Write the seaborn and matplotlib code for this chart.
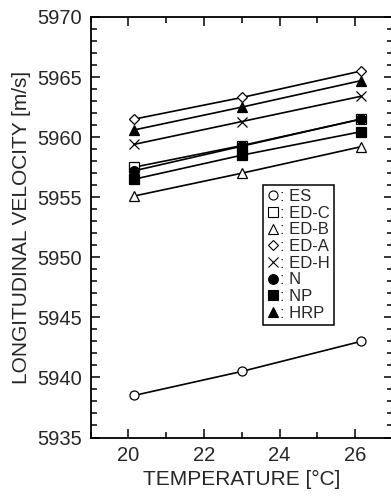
import matplotlib
matplotlib.use("Agg")
import matplotlib.pyplot as plt
from matplotlib.lines import Line2D
from matplotlib.ticker import MultipleLocator
import numpy as np
import pandas as pd
import seaborn as sns

# ---- data ----
temperature = [20.15, 23.0, 26.15]
series_names = ["ES", "ED-C", "ED-B", "ED-A", "ED-H", "N", "NP", "HRP"]
es   = [5938.5, 5940.5, 5943.0]
ed_c = [5957.5, 5959.3, 5961.5]
ed_b = [5955.1, 5957.0, 5959.2]
ed_a = [5961.5, 5963.3, 5965.5]
ed_h = [5959.4, 5961.3, 5963.4]
n_   = [5957.2, 5959.25, 5961.5]
np_  = [5956.5, 5958.5, 5960.45]
hrp  = [5960.6, 5962.5, 5964.7]
values = [es, ed_c, ed_b, ed_a, ed_h, n_, np_, hrp]

xticks = [20, 22, 24, 26]
yticks = [5935, 5940, 5945, 5950, 5955, 5960, 5965, 5970]

# ---- styles ----
markers = {"ES": "o", "ED-C": "s", "ED-B": "^", "ED-A": "D", "ED-H": "x",
           "N": "o", "NP": "s", "HRP": "^"}
filled = {"ES": False, "ED-C": False, "ED-B": False, "ED-A": False, "ED-H": False,
          "N": True, "NP": True, "HRP": True}
msize = {"ES": 6.5, "ED-C": 6.5, "ED-B": 6.5, "ED-A": 5.5, "ED-H": 7,
         "N": 7, "NP": 7, "HRP": 7}

rows = []
for name, vals in zip(series_names, values):
    for t, v in zip(temperature, vals):
        rows.append({"series": name, "T": t, "V": v})
df = pd.DataFrame(rows)

sns.set_style("ticks")
plt.rcParams["font.family"] = ["Liberation Sans", "DejaVu Sans"]

W, H = 391, 497
fig = plt.figure(figsize=(W / 100, H / 100), dpi=100)
left, right, top, bottom = 90.7, 393.0, 17.0, 437.5
ax = fig.add_axes([left / W, (H - bottom) / H, (right - left) / W, (bottom - top) / H])

for name in series_names:
    sub = df[df["series"] == name]
    mfc = "black" if filled[name] else "white"
    sns.lineplot(data=sub, x="T", y="V", ax=ax, color="black", linewidth=1.2,
                 marker=markers[name], markersize=msize[name],
                 markerfacecolor=mfc, markeredgecolor="black",
                 markeredgewidth=0.9, estimator=None, sort=False, legend=False)

ax.set_xlim(19, 27)
ax.set_ylim(5935, 5970)
ax.set_xticks(xticks)
ax.set_yticks(yticks)
ax.xaxis.set_minor_locator(MultipleLocator(1))
ax.yaxis.set_minor_locator(MultipleLocator(1))
ax.tick_params(which="both", direction="in", top=True, right=True,
               labeltop=False, labelright=False, width=1.1, color="black")
ax.tick_params(which="major", length=6.5, labelsize=14.5, pad=6)
ax.tick_params(which="minor", length=4)
for s in ax.spines.values():
    s.set_linewidth(1.3)
    s.set_color("black")

ax.set_xlabel("TEMPERATURE [°C]", fontsize=15, labelpad=4)
ax.set_ylabel("LONGITUDINAL VELOCITY [m/s]", fontsize=15, labelpad=5)

handles = []
for name in series_names:
    mfc = "black" if filled[name] else "white"
    handles.append(Line2D([], [], linestyle="none", marker=markers[name],
                          markersize=msize[name], markerfacecolor=mfc,
                          markeredgecolor="black", markeredgewidth=0.8))
labels = [": " + n for n in series_names]
leg = ax.legend(handles, labels, loc="upper left",
                bbox_to_anchor=((263 - left) / (right - left), (bottom - 185) / (bottom - top)),
                fontsize=12, frameon=True, fancybox=False, edgecolor="black",
                handlelength=0.7, handletextpad=0.05, labelspacing=0.1,
                borderpad=0.25, borderaxespad=0, framealpha=1)
leg.get_frame().set_linewidth(1.1)

fig.savefig("out.png", dpi=100)
